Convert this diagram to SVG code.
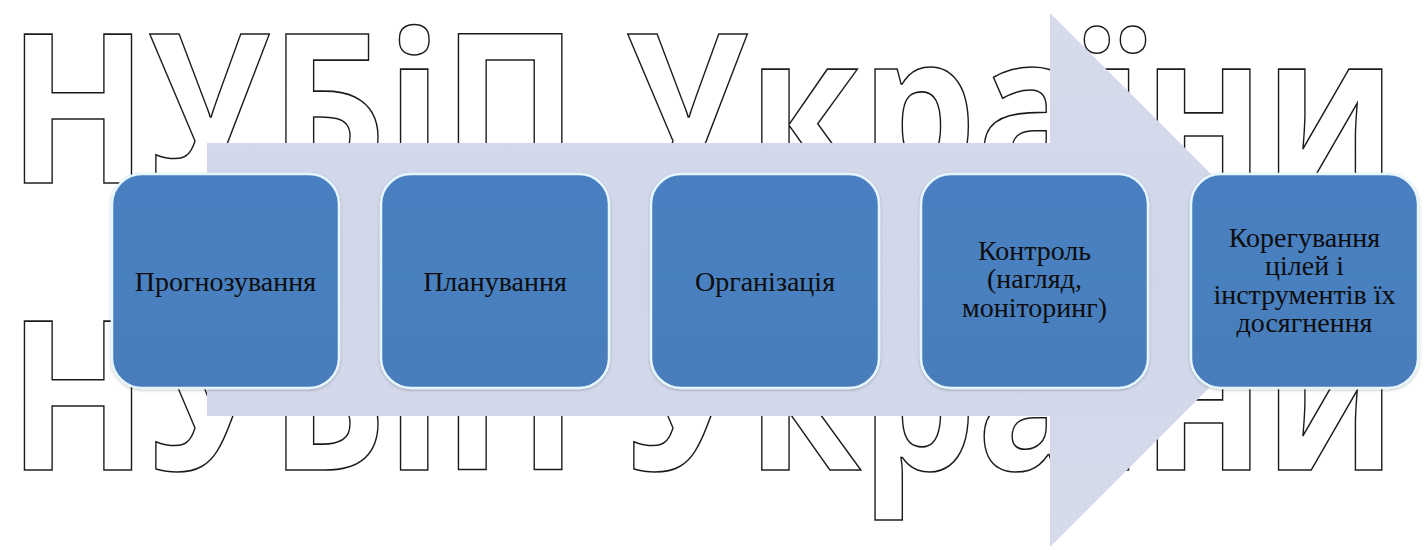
<svg xmlns="http://www.w3.org/2000/svg" width="1425" height="550" viewBox="0 0 1425 550">
<style>
.wm{font-family:"Open Sans","Noto Sans","DejaVu Sans",sans-serif;font-size:208px;font-weight:700;fill:#ffffff;stroke:#1a1a1a;stroke-width:1.6px}
.box{fill:url(#boxGrad);stroke:#e6f6ff;stroke-width:2.5px}
.lbl{font-family:"Liberation Serif","Times New Roman",serif;font-size:28px;fill:#0d0d0d;text-anchor:middle}
</style>
<defs>
<linearGradient id="boxGrad" x1="0" y1="0" x2="0" y2="1">
<stop offset="0" stop-color="#4a7fc0"/>
<stop offset="0.5" stop-color="#4a80bf"/>
<stop offset="1" stop-color="#4a7cba"/>
</linearGradient>
<linearGradient id="arrowGrad" x1="0" y1="0" x2="0" y2="1">
<stop offset="0" stop-color="#d6dbeb"/>
<stop offset="0.5" stop-color="#d0d7ea"/>
<stop offset="1" stop-color="#d6dbeb"/>
</linearGradient>
<filter id="sh" x="-10%" y="-10%" width="120%" height="120%">
<feDropShadow dx="0" dy="1" stdDeviation="1.5" flood-color="#000" flood-opacity="0.25"/>
</filter>
</defs>
<rect width="1425" height="550" fill="#ffffff"/>
<g id="watermark">
<text class="wm" x="8" y="183" textLength="1388" lengthAdjust="spacingAndGlyphs">НУБіП України</text>
<text class="wm" x="8" y="470" textLength="1388" lengthAdjust="spacingAndGlyphs">НУБіП України</text>
</g>
<g id="connectors">
<path d="M207,143 L1050,143 L1050,13 L1317,280 L1050,547 L1050,416 L207,416 Z" fill="url(#arrowGrad)"/>
</g>
<g id="node-1">
<rect class="box" x="112" y="174" width="227" height="214" rx="30" filter="url(#sh)"/>
<text class="lbl" x="225.5" y="291" font-family="Liberation Serif, serif">Прогнозування</text>
</g>
<g id="node-2">
<rect class="box" x="381" y="174" width="228" height="214" rx="30" filter="url(#sh)"/>
<text class="lbl" x="495" y="291" font-family="Liberation Serif, serif">Планування</text>
</g>
<g id="node-3">
<rect class="box" x="651" y="174" width="228" height="214" rx="30" filter="url(#sh)"/>
<text class="lbl" x="765" y="291" font-family="Liberation Serif, serif">Організація</text>
</g>
<g id="node-4">
<rect class="box" x="921" y="174" width="227" height="214" rx="30" filter="url(#sh)"/>
<text class="lbl" x="1034.5" y="260" font-family="Liberation Serif, serif">Контроль</text>
<text class="lbl" x="1034.5" y="288" font-family="Liberation Serif, serif">(нагляд,</text>
<text class="lbl" x="1034.5" y="317" font-family="Liberation Serif, serif">моніторинг)</text>
</g>
<g id="node-5">
<rect class="box" x="1191" y="174" width="227" height="214" rx="30" filter="url(#sh)"/>
<text class="lbl" x="1304.5" y="247" font-family="Liberation Serif, serif">Корегування</text>
<text class="lbl" x="1304.5" y="275" font-family="Liberation Serif, serif">цілей і</text>
<text class="lbl" x="1304.5" y="304" font-family="Liberation Serif, serif">інструментів їх</text>
<text class="lbl" x="1304.5" y="332" font-family="Liberation Serif, serif">досягнення</text>
</g>
</svg>
